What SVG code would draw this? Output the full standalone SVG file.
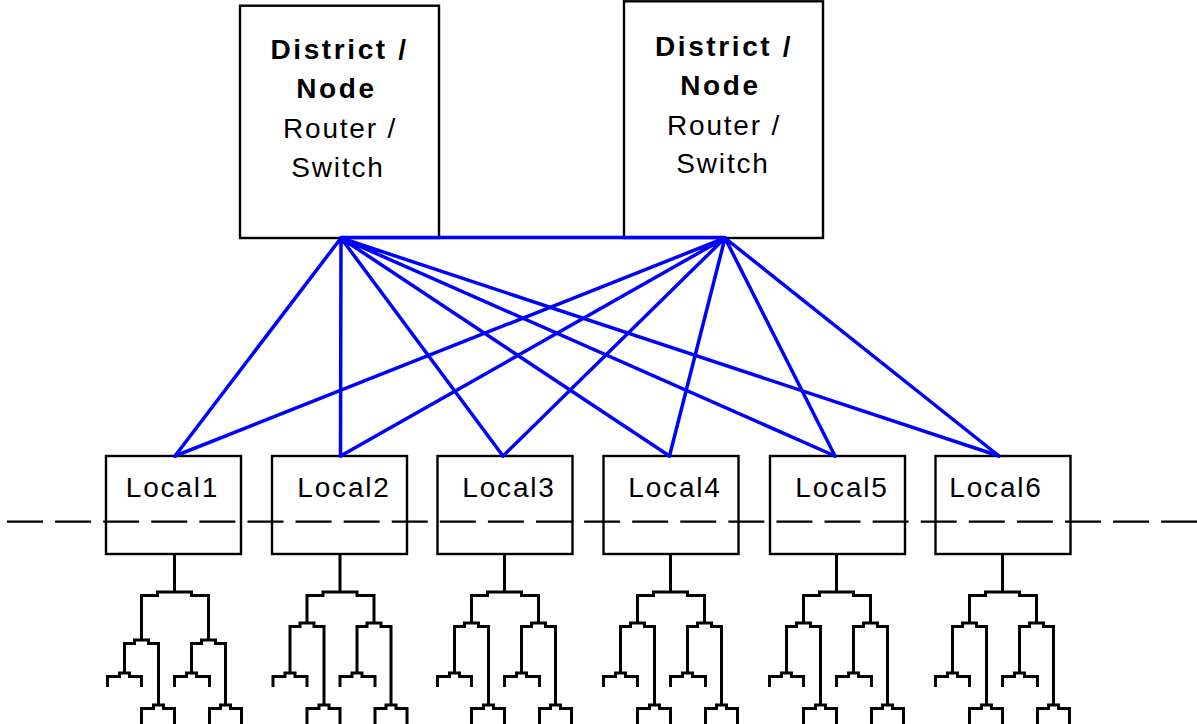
<svg xmlns="http://www.w3.org/2000/svg" width="1197" height="724" viewBox="0 0 1197 724">
<defs>
<style>
.box{fill:#fff;stroke:#000;stroke-width:2.4}
.t{font-family:"Liberation Sans",Arial,sans-serif;font-size:28px;fill:#000;text-anchor:middle;letter-spacing:1.8px}
.b{font-weight:bold;letter-spacing:2.6px}
.tree{fill:none;stroke:#000;stroke-width:3}
.bus{fill:none;stroke:#000;stroke-width:2.3;stroke-dasharray:36 12.09}
.link{fill:none;stroke:#0000ff;stroke-width:3.5;stroke-linecap:round}
</style>
<g id="treeA" class="tree"><path d="M0,554V592M-33,623V595.5H-17V592H17V595.5H34V623M-50,673V626.5H-40V623H-26V626.5H-16V705M17,673V626.5H27V623H41V626.5H51V705M-67,687V676.5H-55V673H-45V676.5H-33V687M-33,726V708.5H-21V705H-11V708.5H0V726M0,687V676.5H12V673H22V676.5H35V687M35,726V708.5H46V705H56V708.5H67V726"/></g>
<g id="treeB" class="tree"><path d="M0,554V592M-33,640V595.5H-17V592H17V595.5H34V640M-50,673V643.5H-40V640H-26V643.5H-16V705M17,673V643.5H27V640H41V643.5H51V705M-67,687V676.5H-55V673H-45V676.5H-33V687M-33,726V708.5H-21V705H-11V708.5H0V726M0,687V676.5H12V673H22V676.5H35V687M35,726V708.5H46V705H56V708.5H67V726"/></g>
</defs>
<rect width="1197" height="724" fill="#fff"/>
<g id="district1">
<rect class="box" x="240" y="5.7" width="199" height="232.3"/>
<text class="t b" x="339.5" y="59">District /</text>
<text class="t b" x="336.5" y="98">Node</text>
<text class="t" x="340" y="138">Router /</text>
<text class="t" x="338" y="177">Switch</text>
</g>
<g id="district2">
<rect class="box" x="624" y="1.3" width="199" height="236.7"/>
<text class="t b" x="724" y="56">District /</text>
<text class="t b" x="720.5" y="95">Node</text>
<text class="t" x="724" y="135">Router /</text>
<text class="t" x="723" y="173">Switch</text>
</g>
<g id="local1">
<rect class="box" x="106" y="456" width="135" height="98"/>
<text class="t" x="172.5" y="497">Local1</text>
<use href="#treeB" x="174.5"/>
</g>
<g id="local2">
<rect class="box" x="272" y="456" width="135" height="98"/>
<text class="t" x="344" y="497">Local2</text>
<use href="#treeA" x="340"/>
</g>
<g id="local3">
<rect class="box" x="437.5" y="456" width="135" height="98"/>
<text class="t" x="509" y="497">Local3</text>
<use href="#treeA" x="504.5"/>
</g>
<g id="local4">
<rect class="box" x="603.5" y="456" width="135" height="98"/>
<text class="t" x="675" y="497">Local4</text>
<use href="#treeA" x="670.5"/>
</g>
<g id="local5">
<rect class="box" x="770" y="456" width="135" height="98"/>
<text class="t" x="842" y="497">Local5</text>
<use href="#treeA" x="836.5"/>
</g>
<g id="local6">
<rect class="box" x="935.5" y="456" width="135" height="98"/>
<text class="t" x="996" y="497">Local6</text>
<use href="#treeA" x="1002.5"/>
</g>
<g id="connectors">
<path class="bus" d="M7,521.7H1197"/>
<path class="link" stroke-width="4" d="M341,237.5H725"/>
<path class="link" d="M341,238L175,456M341,238L340.5,456M341,238L503,456M341,238L669.5,456M341,238L835,456M341,238L999,456"/>
<path class="link" d="M725,238L175,456M725,238L340.5,456M725,238L503,456M725,238L669.5,456M725,238L835,456M725,238L999,456"/>
</g>
</svg>
